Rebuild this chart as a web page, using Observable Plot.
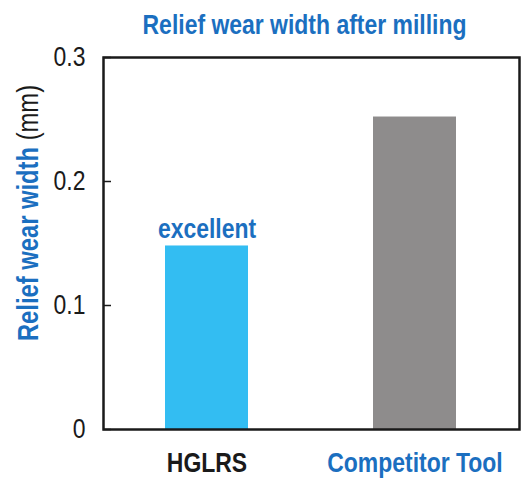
<!DOCTYPE html>
<html>
<head>
<meta charset="utf-8">
<script src="https://cdn.jsdelivr.net/npm/d3@7"></script>
<script src="https://cdn.jsdelivr.net/npm/@observablehq/plot@0.6"></script>
<style>
  html, body { margin: 0; padding: 0; background: #fff; }
</style>
</head>
<body>
<div id="chart"></div>
<script>
const categories = ["HGLRS", "Competitor Tool"];
const values = [0.148, 0.252];
const barColors = ["#33bdf2", "#8e8c8c"];
const labelColors = ["#1a1a1a", "#1b6fc0"];
const yTicks = [0, 0.1, 0.2, 0.3];
const title = "Relief wear width after milling";
const yLabelMain = "Relief wear width ";
const yLabelUnit = "(mm)";
const annotation = "excellent";

const blue = "#1b6fc0";
const font = "'Liberation Sans', Arial, Helvetica, sans-serif";
const squeeze = 0.82;

const data = categories.map((c, i) => ({category: c, value: values[i], color: barColors[i], label: labelColors[i]}));

const chart = Plot.plot({
  width: 524,
  height: 481,
  marginLeft: 103,
  marginRight: 5,
  marginTop: 57,
  marginBottom: 52,
  style: {fontFamily: font, background: "#fff", overflow: "visible"},
  x: {domain: categories, paddingInner: 0.6, paddingOuter: 0.3, axis: null},
  y: {domain: [0, 0.3], axis: null},
  marks: [
    Plot.barY(data, {x: "category", y: "value", fill: "color"}),
    Plot.axisY({ticks: yTicks, label: null, tickSize: -8, tickPadding: 26, tickFormat: d => String(d), fontSize: 28, fill: "#1a1a1a", stroke: "#1a1a1a", strokeWidth: 1.5}),
    Plot.frame({stroke: "#1a1a1a", strokeWidth: 2.5}),
    Plot.text(data, {x: "category", frameAnchor: "bottom", dy: 34, text: "category", fill: "label", fontSize: 28, fontWeight: "bold", lineAnchor: "middle"}),
    Plot.text([annotation], {x: () => categories[0], y: () => values[0], text: d => d, dy: -8, lineAnchor: "bottom", fill: blue, fontSize: 28, fontWeight: "bold"}),
    Plot.text([title], {frameAnchor: "top", dx: -7, dy: -32, text: d => d, fill: blue, fontSize: 28, fontWeight: "bold", lineAnchor: "middle"})
  ]
});

const svg = d3.select(chart);
// condense all texts horizontally (narrow look of the original typeface)
svg.selectAll("text").each(function() {
  const t = this.getAttribute("transform") || "";
  this.setAttribute("transform", `${t} scale(${squeeze},1)`);
});

const yl = svg.append("text")
  .attr("transform", `translate(28,213) rotate(-90) scale(${squeeze},1)`)
  .attr("text-anchor", "middle")
  .attr("dominant-baseline", "central")
  .attr("font-family", font)
  .attr("font-size", 29);
yl.append("tspan").attr("fill", blue).attr("font-weight", "bold").text(yLabelMain);
yl.append("tspan").attr("fill", "#1a1a1a").text(yLabelUnit);

document.getElementById("chart").appendChild(chart);
</script>
</body>
</html>
